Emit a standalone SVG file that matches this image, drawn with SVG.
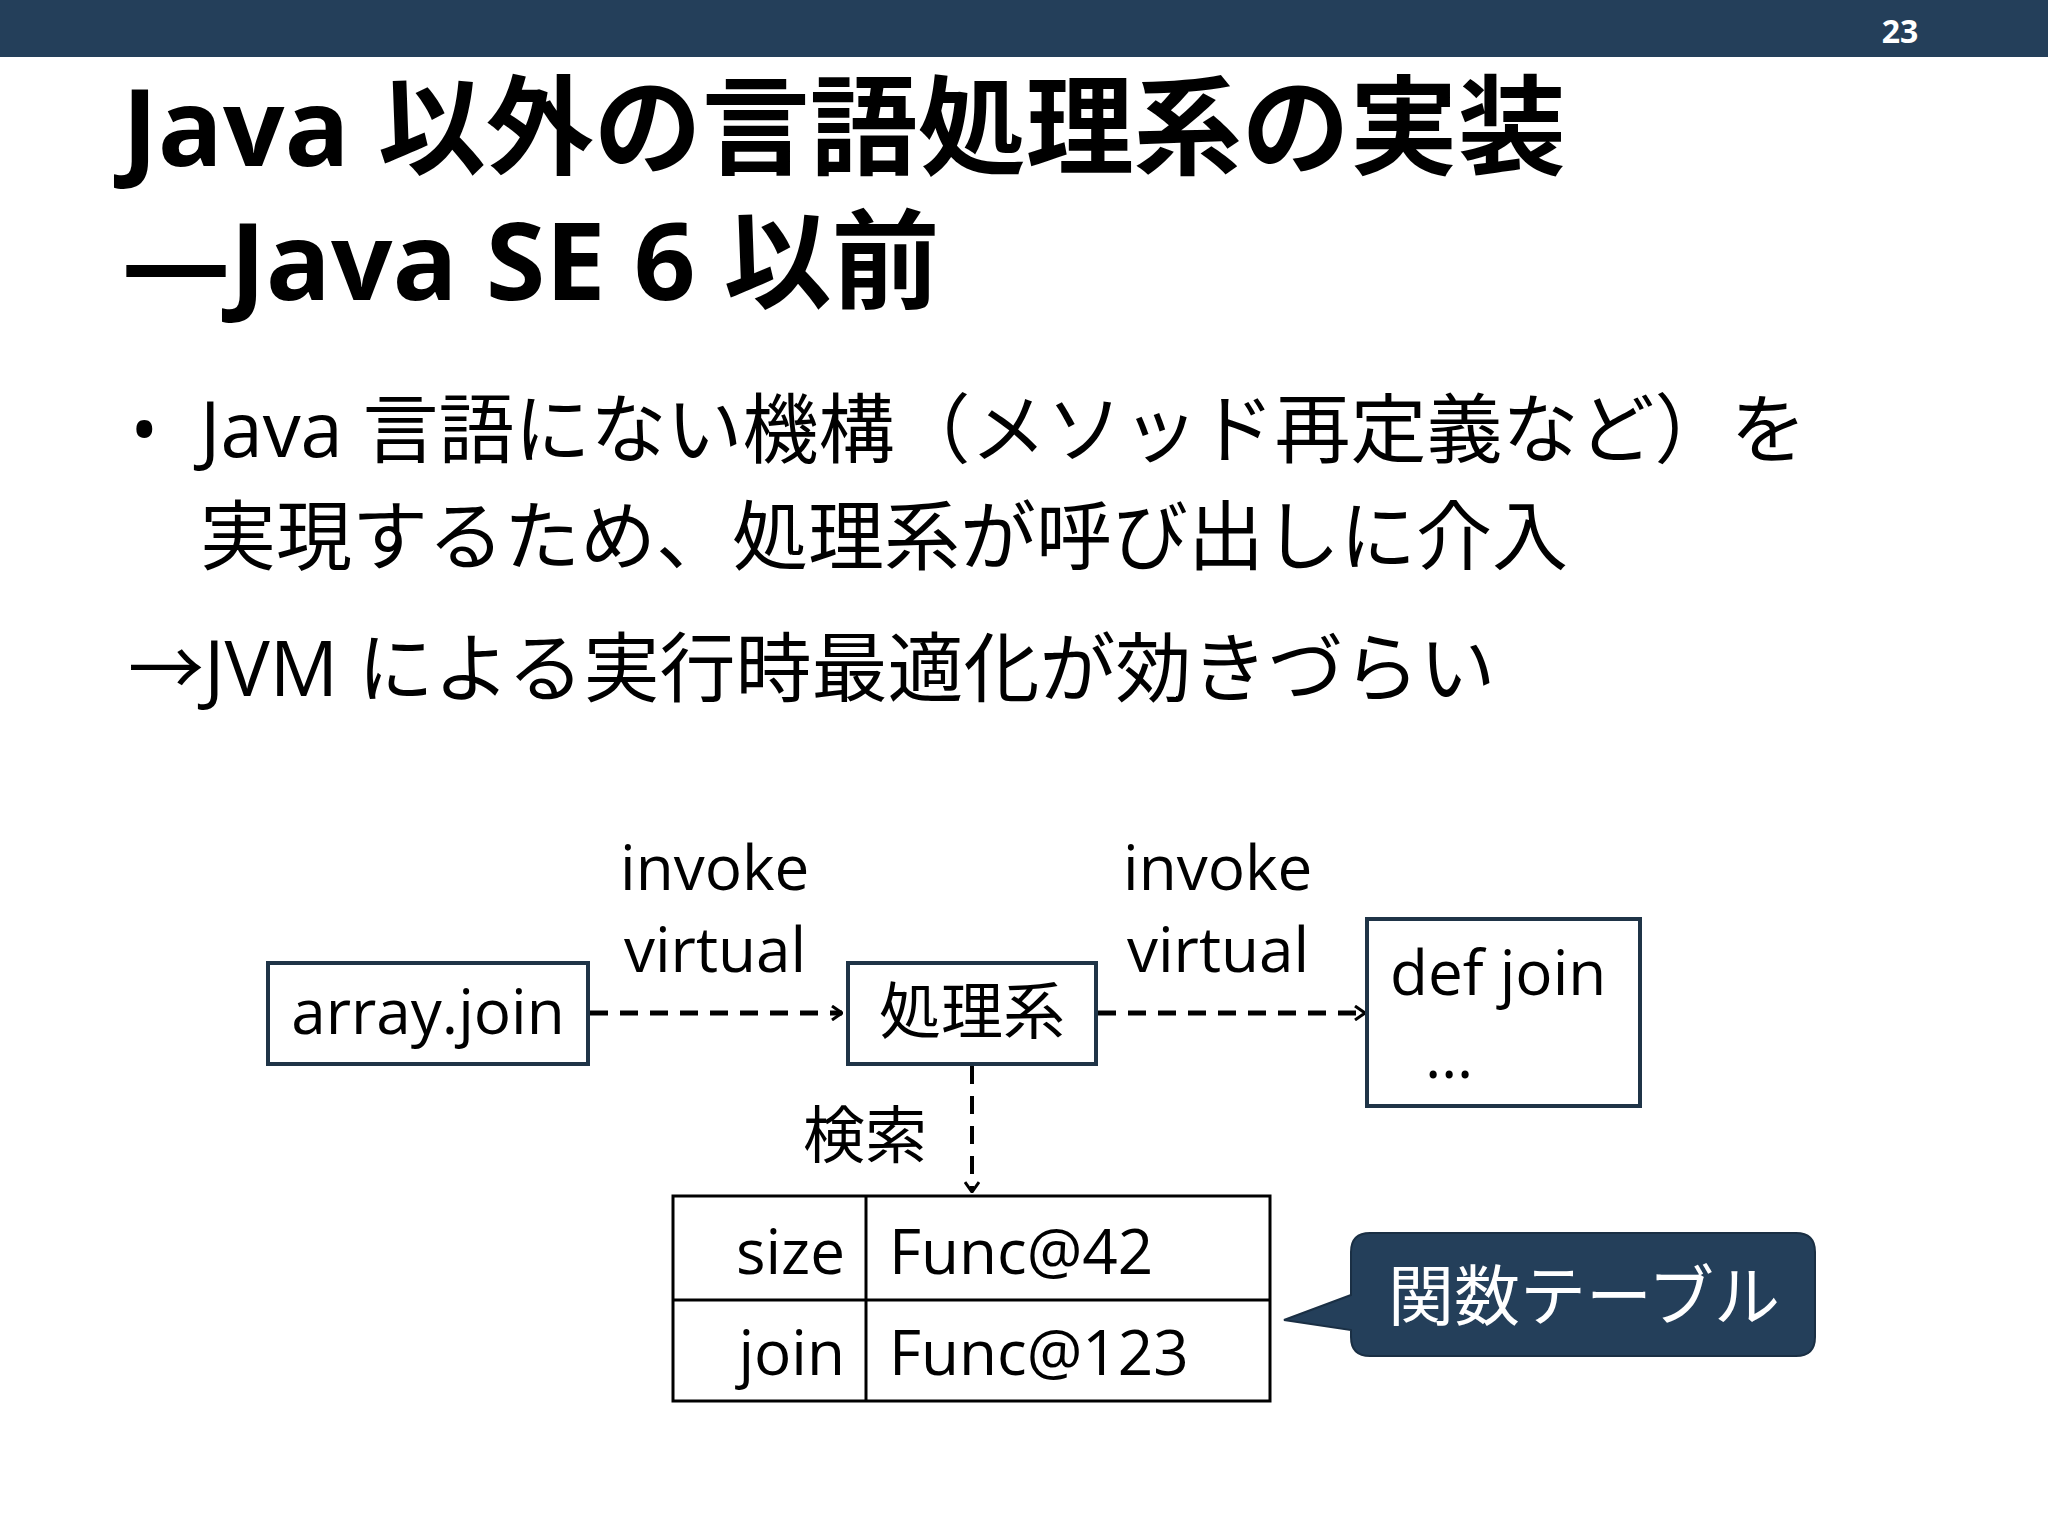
<svg xmlns="http://www.w3.org/2000/svg" width="2048" height="1536" viewBox="0 0 2048 1536">
<defs>
<style>
text{font-family:"Open Sans","Noto Sans CJK JP",sans-serif;fill:#000}
.t{font-weight:bold;font-size:108px}
.b{font-size:76px}
.d{font-size:62px}
.box{fill:#fff;stroke:#1f3447;stroke-width:4}
.dash{stroke:#000;stroke-width:5;stroke-dasharray:18 12;fill:none}
</style>
<marker id="ah" viewBox="0 0 12 16" refX="11" refY="8" markerWidth="12" markerHeight="16" markerUnits="userSpaceOnUse" orient="auto"><path d="M1,1 L11,8 L1,15" fill="none" stroke="#000" stroke-width="3"/></marker>
</defs>
<rect width="2048" height="1536" fill="#fff"/>
<rect width="2048" height="57" fill="#243f5a"/>
<text x="1900" y="43" style="fill:#fff;font-size:32px;font-weight:bold" text-anchor="middle">23</text>
<text class="t" x="122" y="166">Java 以外の言語処理系の実装</text>
<text class="t" x="122" y="300">—Java SE 6 以前</text>
<text class="b" x="130" y="457">•</text>
<text class="b" x="200" y="457">Java 言語にない機構（メソッド再定義など）を</text>
<text class="b" x="200" y="564">実現するため、処理系が呼び出しに介入</text>
<text class="b" x="128" y="696">→JVM による実行時最適化が効きづらい</text>
<g id="connectors">
<path class="dash" d="M590,1013 H842" marker-end="url(#ah)"/>
<path class="dash" d="M1098,1013 H1365" marker-end="url(#ah)"/>
<path class="dash" d="M972,1066 V1192" marker-end="url(#ah)" style="stroke-width:4"/>
<text class="d" x="620" y="890">invoke</text>
<text class="d" x="624" y="972">virtual</text>
<text class="d" x="1123" y="890">invoke</text>
<text class="d" x="1127" y="972">virtual</text>
<text class="d" x="803" y="1158">検索</text>
</g>
<g id="array-join"><rect class="box" x="268" y="963" width="320" height="101"/><text class="d" x="428" y="1034" text-anchor="middle">array.join</text></g>
<g id="shori"><rect class="box" x="848" y="963" width="248" height="101"/><text class="d" x="972" y="1034" text-anchor="middle">処理系</text></g>
<g id="def-join"><rect class="box" x="1367" y="919" width="273" height="187"/><text class="d" x="1390" y="995">def join</text><text class="d" x="1425" y="1078">…</text></g>
<g id="table">
<rect x="673" y="1196" width="597" height="205" fill="#fff" stroke="#000" stroke-width="3"/>
<line x1="866" y1="1196" x2="866" y2="1401" stroke="#000" stroke-width="3"/>
<line x1="673" y1="1300" x2="1270" y2="1300" stroke="#000" stroke-width="3"/>
<text class="d" x="845" y="1274" text-anchor="end">size</text>
<text class="d" x="889" y="1274">Func@42</text>
<text class="d" x="845" y="1375" text-anchor="end">join</text>
<text class="d" x="889" y="1375">Func@123</text>
</g>
<g id="callout">
<path d="M1370,1233 H1796 Q1815,1233 1815,1252 V1337 Q1815,1356 1796,1356 H1370 Q1351,1356 1351,1337 V1330 L1284,1320 L1351,1295 V1252 Q1351,1233 1370,1233 Z" fill="#243f5a" stroke="#1a2f44" stroke-width="2"/>
<text x="1388" y="1320" style="fill:#fff;font-size:66px">関数テーブル</text>
</g>
</svg>
